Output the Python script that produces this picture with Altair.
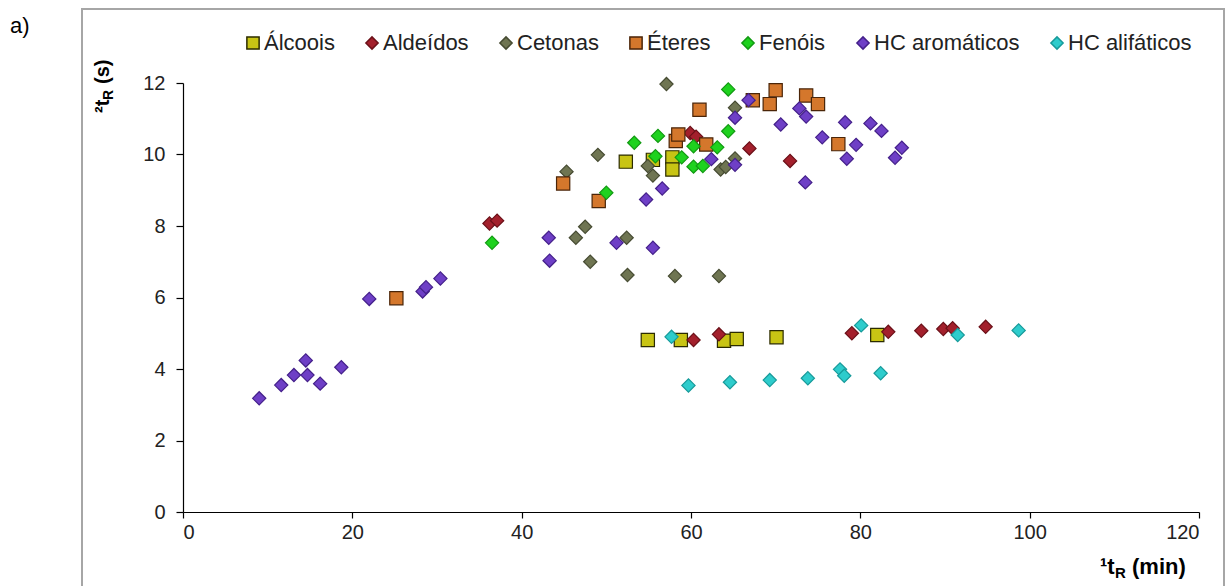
import altair as alt
import pandas as pd

series = ["Álcoois", "Aldeídos", "Cetonas", "Éteres", "Fenóis", "HC aromáticos", "HC alifáticos"]
fills = ["#c8c414", "#a3202c", "#6f7552", "#d4772c", "#1ed21e", "#6e3fc6", "#2ecccc"]
strokes = ["#2b2b00", "#6b1018", "#464b32", "#4a2508", "#129a12", "#44208a", "#179a9a"]
shapes = ["square", "diamond", "diamond", "square", "diamond", "diamond", "diamond"]

alc_x = [52.3, 55.5, 57.8, 57.8, 54.9, 58.8, 63.9, 65.4, 70.1, 82.0]
alc_y = [9.80, 9.85, 9.92, 9.58, 4.81, 4.81, 4.79, 4.84, 4.89, 4.95]
ald_x = [36.2, 37.1, 59.9, 60.6, 66.9, 71.7, 60.3, 63.3, 79.0, 83.3, 87.2, 89.8, 90.9, 94.8]
ald_y = [8.07, 8.15, 10.60, 10.50, 10.17, 9.82, 4.81, 4.97, 5.00, 5.04, 5.07, 5.12, 5.14, 5.18]
cet_x = [45.3, 47.5, 46.4, 48.1, 49.0, 52.4, 52.5, 54.9, 55.5, 57.1, 58.1, 63.3, 63.5, 64.1, 65.2, 65.2]
cet_y = [9.52, 7.98, 7.67, 7.00, 9.99, 7.67, 6.63, 9.68, 9.41, 11.97, 6.60, 6.60, 9.58, 9.65, 9.89, 11.31]
ete_x = [25.2, 44.9, 49.1, 58.2, 58.5, 61.0, 61.8, 67.3, 69.3, 70.0, 73.6, 75.0, 77.4]
ete_y = [5.98, 9.19, 8.70, 10.38, 10.56, 11.25, 10.28, 11.52, 11.41, 11.80, 11.65, 11.41, 10.29]
fen_x = [36.5, 50.0, 53.3, 56.1, 55.8, 58.9, 60.3, 60.3, 61.4, 63.1, 64.4, 64.4]
fen_y = [7.53, 8.93, 10.33, 10.52, 9.95, 9.92, 10.23, 9.66, 9.68, 10.20, 10.65, 11.82]
aro_x = [9.0, 11.6, 13.1, 14.5, 14.7, 16.2, 18.7, 22.0, 28.3, 28.7, 30.4, 43.2, 43.3, 51.2, 54.7,
         55.5, 56.6, 62.4, 65.2, 65.2, 66.8, 70.6, 72.8, 73.6, 73.5, 75.5, 78.2, 78.4, 79.5, 81.2,
         82.5, 84.1, 84.9]
aro_y = [3.18, 3.55, 3.83, 4.24, 3.83, 3.59, 4.05, 5.96, 6.17, 6.29, 6.53, 7.67, 7.03, 7.53, 8.74,
         7.39, 9.05, 9.87, 11.03, 9.71, 11.52, 10.84, 11.29, 11.06, 9.22, 10.48, 10.90, 9.88, 10.27,
         10.87, 10.66, 9.91, 10.19]
ali_x = [57.7, 59.7, 64.6, 69.3, 73.8, 77.6, 78.1, 80.1, 82.4, 91.5, 98.7]
ali_y = [4.90, 3.54, 3.63, 3.69, 3.74, 3.99, 3.81, 5.22, 3.88, 4.95, 5.08]

xs = [alc_x, ald_x, cet_x, ete_x, fen_x, aro_x, ali_x]
ys = [alc_y, ald_y, cet_y, ete_y, fen_y, aro_y, ali_y]

rows = []
for name, sx, sy in zip(series, xs, ys):
    for a, b in zip(sx, sy):
        rows.append({"serie": name, "x": a, "y": b})
df = pd.DataFrame(rows)

FONT = "Liberation Sans"
W, H = 1016, 429
PL, PT = 183, 83

leg = alt.Legend(
    title=None, orient="none", direction="horizontal", columns=7,
    legendX=59, legendY=-51, labelFont=FONT, labelFontSize=22, labelColor="#222222",
    symbolSize=150, symbolStrokeWidth=1.5, labelOffset=0, columnPadding=26, padding=0,
    symbolOpacity=1,
)

points = alt.Chart(df).mark_point(filled=True, opacity=1, size=175, strokeWidth=1.2).encode(
    x=alt.X("x:Q", scale=alt.Scale(domain=[0, 120], nice=False),
            axis=alt.Axis(values=[0, 20, 40, 60, 80, 100, 120], title=None, grid=False,
                          domainColor="#000000", tickColor="#000000", tickSize=6,
                          labelFont=FONT, labelFontSize=20, labelColor="#222222",
                          labelPadding=4, domainWidth=1.2, tickWidth=1.2)),
    y=alt.Y("y:Q", scale=alt.Scale(domain=[0, 12], nice=False),
            axis=alt.Axis(values=[0, 2, 4, 6, 8, 10, 12], title=None, grid=False,
                          domainColor="#000000", tickColor="#000000", tickSize=7,
                          labelFont=FONT, labelFontSize=20, labelColor="#222222",
                          labelPadding=11, domainWidth=1.2, tickWidth=1.2)),
    color=alt.Color("serie:N", scale=alt.Scale(domain=series, range=fills), legend=leg),
    stroke=alt.Stroke("serie:N", scale=alt.Scale(domain=series, range=strokes), legend=leg),
    shape=alt.Shape("serie:N", scale=alt.Scale(domain=series, range=shapes), legend=leg),
)

one = pd.DataFrame({"k": [0]})

frame = alt.Chart(one).mark_rect(fillOpacity=0, stroke="#a6a6a6", strokeWidth=2).encode(
    x=alt.value(82 - PL), x2=alt.value(1224 - PL), y=alt.value(9 - PT), y2=alt.value(620)
)

label_a = alt.Chart(one).mark_text(font=FONT, fontSize=22, align="left", baseline="alphabetic",
                                   color="#000000").encode(
    x=alt.value(10 - PL), y=alt.value(33 - PT), text=alt.value("a)"))

# x title pieces: ¹t  R(sub)  (min)
xt_y = 574 - PT
XS = 1100
xt1 = alt.Chart(one).mark_text(font=FONT, fontSize=22, fontWeight="bold", align="left",
                               baseline="alphabetic", color="#000000").encode(
    x=alt.value(XS - PL), y=alt.value(xt_y), text=alt.value("¹t"))
xt2 = alt.Chart(one).mark_text(font=FONT, fontSize=15, fontWeight="bold", align="left",
                               baseline="alphabetic", color="#000000").encode(
    x=alt.value(XS + 15 - PL), y=alt.value(xt_y + 4), text=alt.value("R"))
xt3 = alt.Chart(one).mark_text(font=FONT, fontSize=22, fontWeight="bold", align="left",
                               baseline="alphabetic", color="#000000").encode(
    x=alt.value(XS + 32 - PL), y=alt.value(xt_y), text=alt.value("(min)"))

# y title pieces (rotated)
yt_x = 109 - PL
yt1 = alt.Chart(one).mark_text(font=FONT, fontSize=20, fontWeight="bold", align="left",
                               baseline="alphabetic", angle=270, color="#000000").encode(
    x=alt.value(yt_x), y=alt.value(113 - PT), text=alt.value("²t"))
yt2 = alt.Chart(one).mark_text(font=FONT, fontSize=14, fontWeight="bold", align="left",
                               baseline="alphabetic", angle=270, color="#000000").encode(
    x=alt.value(yt_x + 4), y=alt.value(100 - PT), text=alt.value("R"))
yt3 = alt.Chart(one).mark_text(font=FONT, fontSize=20, fontWeight="bold", align="left",
                               baseline="alphabetic", angle=270, color="#000000").encode(
    x=alt.value(yt_x), y=alt.value(84 - PT), text=alt.value("(s)"))

chart = alt.layer(frame, points, label_a, xt1, xt2, xt3, yt1, yt2, yt3).properties(
    width=W, height=H, autosize=alt.AutoSizeParams(type="none"),
    padding={"left": PL, "top": PT, "right": 1231 - PL - W, "bottom": 586 - PT - H},
    background="#ffffff",
).configure_view(stroke=None)

chart.save("out.html", embed_options={"renderer": "svg", "actions": False})
